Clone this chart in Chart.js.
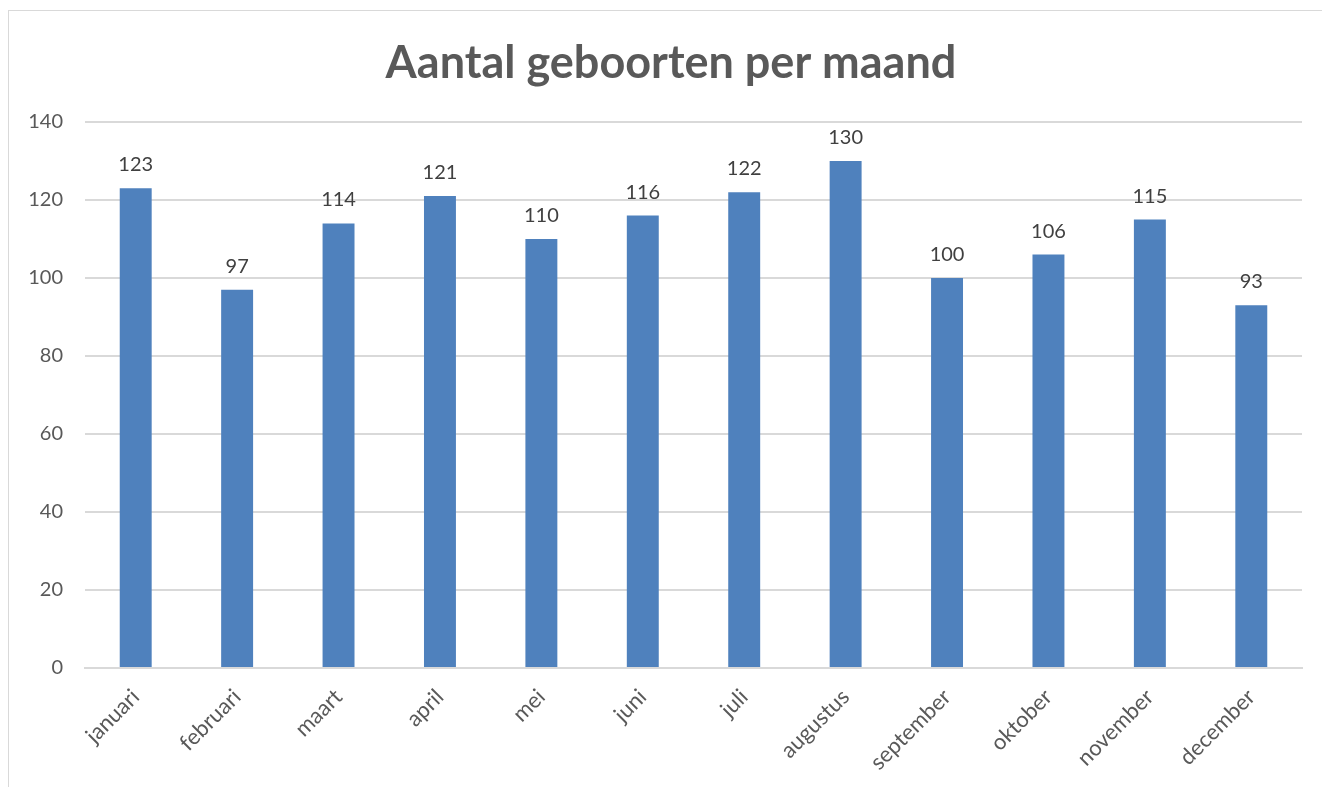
<!DOCTYPE html>
<html>
<head>
<meta charset="utf-8">
<script src="https://cdn.jsdelivr.net/npm/chart.js@4.4.1/dist/chart.umd.min.js"></script>
<style>
  html, body { margin: 0; padding: 0; background: #fff; }
  #frame { position: absolute; left: 8px; top: 10px; width: 1330px; height: 800px; border-left: 1px solid #D9D9D9; border-top: 1px solid #D9D9D9; box-sizing: border-box; }
  #wrap { position: absolute; left: 0; top: 0; width: 1322px; height: 787px; }
</style>
</head>
<body>
<div id="frame"></div>
<div id="wrap"><canvas id="c" width="1322" height="787"></canvas></div>
<script>
const months = ["januari", "februari", "maart", "april", "mei", "juni", "juli", "augustus", "september", "oktober", "november", "december"];
const births = [123, 97, 114, 121, 110, 116, 122, 130, 100, 106, 115, 93];
const titleText = "Aantal geboorten per maand";

const FONT = "Lato, 'Liberation Sans', sans-serif";

const dataLabels = {
  id: 'dataLabels',
  afterDatasetsDraw(chart) {
    const ctx = chart.ctx;
    const meta = chart.getDatasetMeta(0);
    ctx.save();
    ctx.font = "20px " + FONT;
    ctx.fillStyle = "#404040";
    ctx.textAlign = "center";
    ctx.textBaseline = "alphabetic";
    meta.data.forEach((bar, i) => {
      ctx.fillText(String(births[i]), bar.x, bar.y - 17);
    });
    ctx.restore();
  }
};

const chartTitle = {
  id: 'chartTitle',
  afterDraw(chart) {
    const ctx = chart.ctx;
    ctx.save();
    ctx.font = "bold 45px " + FONT;
    ctx.fillStyle = "#595959";
    ctx.textAlign = "center";
    ctx.textBaseline = "alphabetic";
    ctx.fillText(titleText, 671, 78);
    ctx.restore();
  }
};

new Chart(document.getElementById('c'), {
  type: 'bar',
  data: {
    labels: months,
    datasets: [{
      data: births,
      backgroundColor: '#4F81BD',
      borderWidth: 0,
      barPercentage: 0.63,
      categoryPercentage: 0.5
    }]
  },
  options: {
    responsive: false,
    animation: false,
    layout: { padding: { left: 10, right: 20, top: 122, bottom: 0 } },
    plugins: {
      legend: { display: false },
      tooltip: { enabled: false },
      title: { display: false }
    },
    scales: {
      x: {
        grid: { display: false, drawTicks: false },
        border: { display: true, color: '#D9D9D9', width: 2 },
        ticks: {
          color: '#595959',
          font: { family: FONT, size: 22 },
          minRotation: 45,
          maxRotation: 45,
          padding: 16,
          autoSkip: false
        },
        afterFit(scale) { scale.height = 119; }
      },
      y: {
        min: 0,
        max: 140,
        grid: { color: '#D9D9D9', lineWidth: 2, drawTicks: false },
        border: { display: false },
        ticks: {
          stepSize: 20,
          color: '#595959',
          font: { family: FONT, size: 20 },
          padding: 22
        },
        afterFit(scale) { scale.width = 75; }
      }
    }
  },
  plugins: [dataLabels, chartTitle]
});
</script>
</body>
</html>
